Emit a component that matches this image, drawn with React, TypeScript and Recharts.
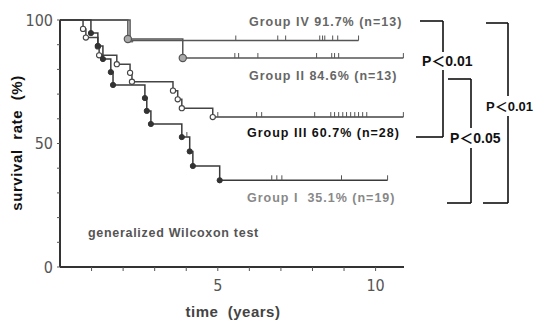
import React from 'react';
import { ComposedChart, Line, XAxis, YAxis } from 'recharts';

// ---- data ----
const g1DeathTimes = [0.98, 1.2, 1.36, 1.61, 1.68, 2.69, 2.75, 2.88, 3.86, 4.11, 4.21, 5.06];
const g1DeathSurv = [94.7, 89.5, 84.2, 78.9, 73.7, 68.4, 63.2, 57.9, 52.6, 46.8, 40.9, 35.1];
const g1CensorTimes = [4.02, 6.71, 6.87, 7.03, 8.92];
const g1EndTime = 10.38;

const g2DeathTimes = [2.15, 3.89];
const g2DeathSurv = [92.3, 84.6];
const g2CensorTimes = [5.54, 5.66, 6.27, 8.13, 8.61, 8.7, 8.83];
const g2EndTime = 10.88;

const g3DeathTimes = [0.73, 0.82, 1.2, 1.24, 1.8, 2.22, 2.28, 3.58, 3.73, 3.86, 4.84];
const g3DeathSurv = [96.4, 92.9, 89.3, 85.7, 82.1, 78.6, 75.0, 71.4, 67.9, 64.3, 60.7];
const g3CensorTimes = [5.0, 6.23, 6.39, 8.07, 8.58, 8.7, 8.83, 8.96, 9.08, 9.21, 9.34, 9.46, 9.59, 9.72];
const g3EndTime = 10.88;

const g4DeathTimes = [2.22];
const g4DeathSurv = [91.7];
const g4CensorTimes = [5.57, 6.9, 7.15, 8.23, 8.32, 8.39, 8.64, 8.8];
const g4EndTime = 9.46;

const xTicks = [1, 2, 3, 4, 5, 6, 7, 8, 9, 10];
const xTickLabels = [5, 10];
const yTicks = [0, 10, 20, 30, 40, 50, 60, 70, 80, 90, 100];
const yTickLabels = [0, 50, 100];

const groupLabels = [
  'Group IV 91.7% (n=13)',
  'Group II 84.6% (n=13)',
  'Group III 60.7% (n=28)',
  'Group I  35.1% (n=19)',
];
const pLabels = ['P\uFF1C0.01', 'P\uFF1C0.05', 'P\uFF1C0.01'];

type Pt = { t: number; s: number; k: string };

function buildSeries(deaths: number[], surv: number[], censor: number[], end: number): Pt[] {
  const pts: Pt[] = [{ t: 0, s: 100, k: 'start' }];
  deaths.forEach((t, i) => pts.push({ t, s: surv[i], k: 'death' }));
  censor.forEach((t) => pts.push({ t, s: NaN, k: 'censor' }));
  pts.push({ t: end, s: NaN, k: 'end' });
  pts.sort((a, b) => a.t - b.t);
  let cur = 100;
  pts.forEach((p) => {
    if (p.k === 'death' || p.k === 'start') cur = p.s;
    else p.s = cur;
  });
  return pts;
}

const series = [
  { id: 'g4', data: buildSeries(g4DeathTimes, g4DeathSurv, g4CensorTimes, g4EndTime), mark: 'tri', stroke: '#555' },
  { id: 'g2', data: buildSeries(g2DeathTimes, g2DeathSurv, g2CensorTimes, g2EndTime), mark: 'big', stroke: '#555' },
  { id: 'g3', data: buildSeries(g3DeathTimes, g3DeathSurv, g3CensorTimes, g3EndTime), mark: 'open', stroke: '#444' },
  { id: 'g1', data: buildSeries(g1DeathTimes, g1DeathSurv, g1CensorTimes, g1EndTime), mark: 'filled', stroke: '#3a3a3a' },
];

const W = 536;
const H = 321;
const FONT = "'Liberation Sans', Arial, 'Noto Sans CJK JP', sans-serif";
const NARROW = "'Liberation Sans Narrow', 'DejaVu Sans Condensed', 'Liberation Sans', sans-serif";

function makeDot(mark: string, id: string) {
  return (props: any) => {
    const { cx, cy, payload, index } = props;
    const key = `${id}-${index}`;
    if (cx == null || cy == null || !payload) return <g key={key} />;
    if (payload.k === 'censor' || payload.k === 'end') {
      return <line key={key} x1={cx} y1={cy} x2={cx} y2={cy - 5} stroke="#555" strokeWidth={1} />;
    }
    if (payload.k === 'death') {
      if (mark === 'filled') return <circle key={key} cx={cx} cy={cy} r={2.6} fill="#333" stroke="#333" strokeWidth={1} />;
      if (mark === 'open') return <circle key={key} cx={cx} cy={cy} r={2.6} fill="#fff" stroke="#444" strokeWidth={1.1} />;
      if (mark === 'big') return <circle key={key} cx={cx} cy={cy} r={3.6} fill="#aaa" stroke="#555" strokeWidth={1.2} />;
      return <path key={key} d={`M${cx - 3},${cy + 1.5} L${cx + 3},${cy + 1.5} L${cx},${cy - 3} Z`} fill="#777" stroke="#555" strokeWidth={0.8} />;
    }
    return <g key={key} />;
  };
}

function Bracket({ top, bottom, x, topX, botX, gap0, gap1 }: any) {
  return (
    <g stroke="#111" strokeWidth={1.6} fill="none">
      <line x1={topX} y1={top} x2={x} y2={top} />
      <line x1={x} y1={top} x2={x} y2={gap0} />
      <line x1={x} y1={gap1} x2={x} y2={bottom} />
      <line x1={botX} y1={bottom} x2={x} y2={bottom} />
    </g>
  );
}

export default function App() {
  return (
    <div style={{ position: 'fixed', left: 0, top: 0, width: W, height: H, background: '#fff' }}>
      <ComposedChart width={W} height={H} margin={{ top: 20, right: 132, bottom: 0, left: 0 }}>
        <XAxis
          type="number"
          dataKey="t"
          domain={[0, 10.9]}
          ticks={xTicks}
          interval={0}
          height={54}
          tickSize={4}
          tickMargin={9}
          tickFormatter={(v: number) => (xTickLabels.includes(v) ? String(v) : '')}
          axisLine={{ stroke: '#333', strokeWidth: 2 }}
          tickLine={{ stroke: '#555', strokeWidth: 1 }}
          tick={{ fill: '#555', fontSize: 16, fontFamily: NARROW }}
        />
        <YAxis
          type="number"
          domain={[0, 100]}
          ticks={yTicks}
          interval={0}
          width={60}
          tickSize={3}
          tickMargin={4}
          tickFormatter={(v: number) => (yTickLabels.includes(v) ? String(v) : '')}
          axisLine={{ stroke: '#333', strokeWidth: 2 }}
          tickLine={{ stroke: '#555', strokeWidth: 1 }}
          tick={{ fill: '#555', fontSize: 16, fontFamily: NARROW }}
        />
        {series.map((s) => (
          <Line
            key={s.id}
            data={s.data}
            dataKey="s"
            type="stepAfter"
            stroke={s.stroke}
            strokeWidth={1.5}
            dot={makeDot(s.mark, s.id)}
            activeDot={false}
            isAnimationActive={false}
          />
        ))}
      </ComposedChart>
      <svg width={W} height={H} style={{ position: 'absolute', left: 0, top: 0, pointerEvents: 'none' }}>
        {/* axis titles */}
        <text
          x={0}
          y={0}
          transform="translate(22,143) rotate(-90)"
          textAnchor="middle"
          fontFamily={FONT}
          fontWeight="bold"
          fontSize={15}
          letterSpacing={0.6}
          fill="#111"
          style={{ whiteSpace: 'pre' }}
        >
          {'survival  rate  (%)'}
        </text>
        <text
          x={233}
          y={317}
          textAnchor="middle"
          fontFamily={FONT}
          fontWeight="bold"
          fontSize={15}
          letterSpacing={0.5}
          fill="#444"
          style={{ whiteSpace: 'pre' }}
        >
          {'time  (years)'}
        </text>
        <text x={88} y={237} fontFamily={FONT} fontWeight="bold" fontSize={12.5} letterSpacing={0.7} fill="#555">
          generalized Wilcoxon test
        </text>
        {/* group labels */}
        <text x={249} y={26} fontFamily={FONT} fontWeight="bold" fontSize={12.5} letterSpacing={1} fill="#666" style={{ whiteSpace: 'pre' }}>
          {groupLabels[0]}
        </text>
        <text x={249} y={80} fontFamily={FONT} fontWeight="bold" fontSize={12.5} letterSpacing={1} fill="#666" style={{ whiteSpace: 'pre' }}>
          {groupLabels[1]}
        </text>
        <text x={247} y={137} fontFamily={FONT} fontWeight="bold" fontSize={12.5} letterSpacing={1} fill="#111" style={{ whiteSpace: 'pre' }}>
          {groupLabels[2]}
        </text>
        <text x={247} y={202} fontFamily={FONT} fontWeight="bold" fontSize={12.5} letterSpacing={1} fill="#888" style={{ whiteSpace: 'pre' }}>
          {groupLabels[3]}
        </text>
        {/* brackets */}
        <Bracket top={21} bottom={137} x={443} topX={420} botX={416} gap0={52} gap1={70} />
        <Bracket top={79} bottom={203} x={471} topX={448} botX={447} gap0={128} gap1={148} />
        <Bracket top={23} bottom={203} x={508} topX={486} botX={483} gap0={96} gap1={116} />
        <text x={422} y={66} fontFamily={FONT} fontWeight="bold" fontSize={14} fill="#111">
          {pLabels[0]}
        </text>
        <text x={450} y={143} fontFamily={FONT} fontWeight="bold" fontSize={14} fill="#111">
          {pLabels[1]}
        </text>
        <text x={486} y={111} fontFamily={FONT} fontWeight="bold" fontSize={13} fill="#111">
          {pLabels[2]}
        </text>
      </svg>
    </div>
  );
}
